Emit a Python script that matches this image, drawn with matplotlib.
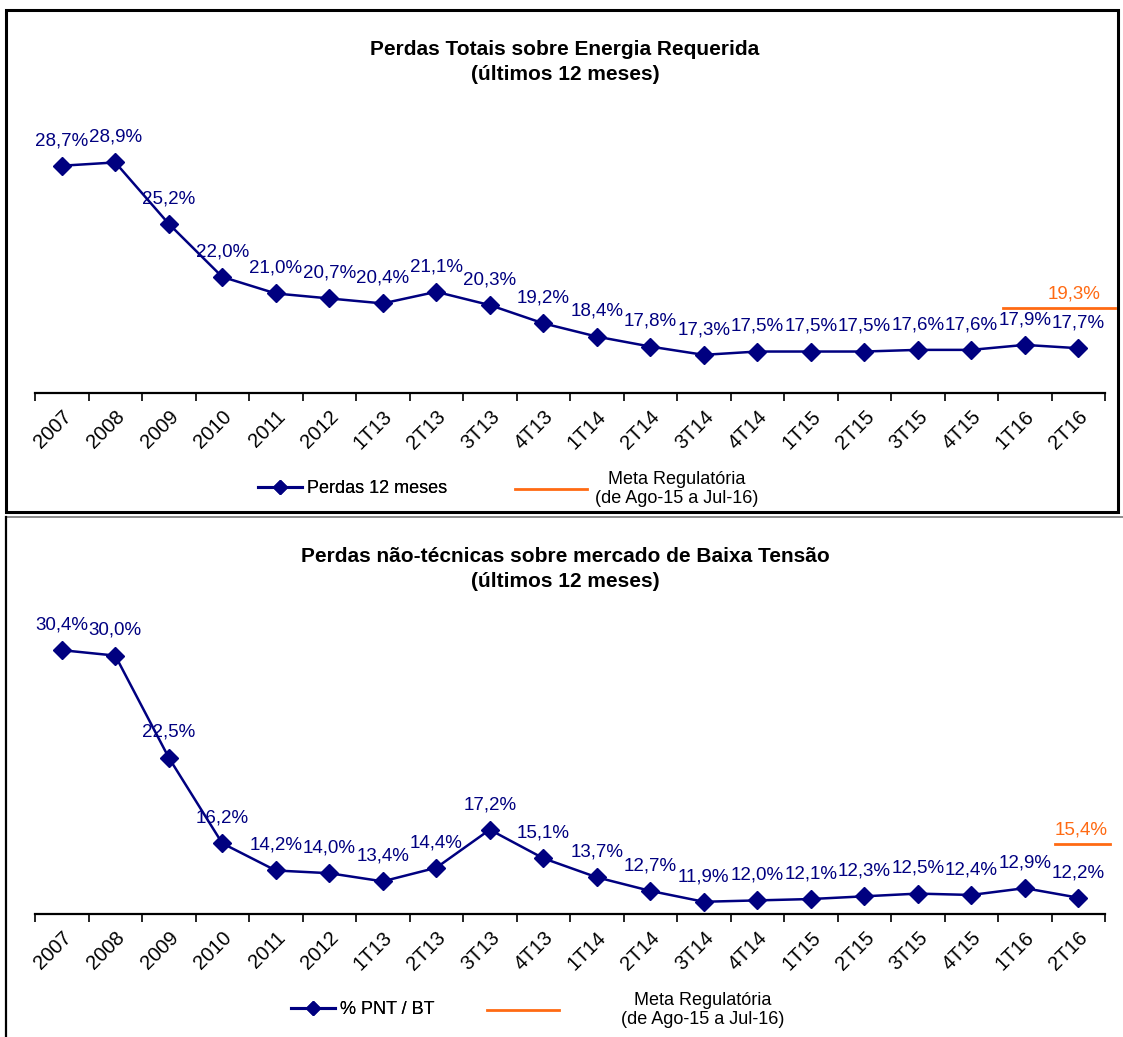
import matplotlib
matplotlib.use("Agg")
import matplotlib.pyplot as plt
from matplotlib.lines import Line2D
from matplotlib.patches import Rectangle

plt.rcParams["font.family"] = ["Liberation Sans Narrow", "Liberation Sans", "DejaVu Sans"]

# ---------------------------------------------------------------------------
# Data
# ---------------------------------------------------------------------------
periods = ["2007", "2008", "2009", "2010", "2011", "2012", "1T13", "2T13", "3T13",
           "4T13", "1T14", "2T14", "3T14", "4T14", "1T15", "2T15", "3T15", "4T15",
           "1T16", "2T16"]

perdas_totais = [28.7, 28.9, 25.2, 22.0, 21.0, 20.7, 20.4, 21.1, 20.3, 19.2,
                 18.4, 17.8, 17.3, 17.5, 17.5, 17.5, 17.6, 17.6, 17.9, 17.7]
meta_totais = 19.3

pnt_bt = [30.4, 30.0, 22.5, 16.2, 14.2, 14.0, 13.4, 14.4, 17.2, 15.1,
          13.7, 12.7, 11.9, 12.0, 12.1, 12.3, 12.5, 12.4, 12.9, 12.2]
meta_pnt = 15.4

NAVY = "#000080"
ORANGE = "#ff6a13"
W, H = 1123, 1037


def fmt(v):
    return f"{v:.1f}%".replace(".", ",")


def px_axes(fig, x0, x1, y_top, y_bot):
    return fig.add_axes([x0 / W, 1 - y_bot / H, (x1 - x0) / W, (y_bot - y_top) / H])


def draw_panel(fig, y_top, y_bot, ylim, meta_shift, values, meta, meta_span, meta_dx,
               title, title_y, series_label, leg_y, leg1_x, leg2_x, leg2_pad):
    ax = px_axes(fig, 35, 1105, y_top, y_bot)
    x = list(range(len(periods)))
    ax.plot(x, values, color=NAVY, lw=1.8, marker="D", ms=9.5, zorder=3)
    for xi, v in zip(x, values):
        ax.annotate(fmt(v), (xi, v), xytext=(0, 12), textcoords="offset points",
                    ha="center", va="bottom", color=NAVY, fontsize=13.5)
    ax.set_xlim(-0.5, len(periods) - 0.5)
    ax.set_ylim(*ylim)
    ax.set_yticks([])
    for s in ("top", "right", "left"):
        ax.spines[s].set_visible(False)
    ax.spines["bottom"].set_linewidth(1.6)
    ax.set_xticks([i - 0.5 for i in range(len(periods) + 1)], minor=False)
    ax.set_xticklabels([])
    ax.tick_params(axis="x", which="major", length=6, width=1.2, direction="out")
    ax.set_xticks(x, minor=True)
    ax.set_xticklabels(periods, minor=True, rotation=45, ha="right", va="top",
                       rotation_mode="anchor", fontsize=14.5)
    ax.tick_params(axis="x", which="minor", length=0, pad=10)

    # regulatory target on a secondary scale
    ax2 = ax.twinx()
    ax2.set_ylim(ylim[0] - meta_shift, ylim[1] - meta_shift)
    ax2.axis("off")
    ax2.set_xlim(ax.get_xlim())
    ax2.plot(meta_span, [meta, meta], color=ORANGE, lw=2, clip_on=False)
    ax2.annotate(fmt(meta), (meta_span[1], meta), xytext=(meta_dx, 4),
                 textcoords="offset points", ha="right", va="bottom",
                 color=ORANGE, fontsize=13.5, annotation_clip=False)

    fig.text(565 / W, 1 - title_y / H, title, ha="center", va="center",
             fontsize=15, fontweight="bold", linespacing=1.4)

    h1 = Line2D([], [], color=NAVY, lw=2.2, marker="D", ms=7.5)
    l1 = fig.legend([h1], [series_label], loc="center left",
                    bbox_to_anchor=(leg1_x / W, 1 - leg_y / H), frameon=False,
                    handlelength=2.4, handletextpad=0.3, fontsize=13)
    h2 = Line2D([], [], color=ORANGE, lw=2)
    l2 = fig.legend([h2], ["Meta Regulatória\n(de Ago-15 a Jul-16)"], loc="center left",
                    bbox_to_anchor=(leg2_x / W, 1 - leg_y / H), frameon=False,
                    handlelength=4.0, handletextpad=leg2_pad, fontsize=13)
    for t in l2.get_texts():
        t.set_multialignment("center")
    fig.add_artist(l1)


fig = plt.figure(figsize=(W / 100, H / 100), dpi=100)

draw_panel(fig, 111, 393, (15, 32), 0.82, perdas_totais, meta_totais, (17.6, 19.68), -10,
           "Perdas Totais sobre Energia Requerida\n(últimos 12 meses)", 62,
           "Perdas 12 meses", 489, 242, 499, 0.4)
draw_panel(fig, 608, 914, (11, 33.5), 0.75, pnt_bt, meta_pnt, (18.56, 19.6), -2,
           "Perdas não-técnicas sobre mercado de Baixa Tensão\n(últimos 12 meses)", 569,
           "% PNT / BT", 1010, 275, 471, 3.4)

# panel frames
fig.add_artist(Rectangle((6 / W, 1 - 512 / H), (1118 - 6) / W, (512 - 10) / H,
                         transform=fig.transFigure, fill=False, lw=2.2, ec="black"))
fig.add_artist(Line2D([6 / W, 1], [1 - 517 / H] * 2, transform=fig.transFigure,
                      color="#777777", lw=1.2))
fig.add_artist(Line2D([6 / W, 6 / W], [0, 1 - 517 / H], transform=fig.transFigure,
                      color="black", lw=1.6))

fig.savefig("out.png", dpi=100, facecolor="white")
